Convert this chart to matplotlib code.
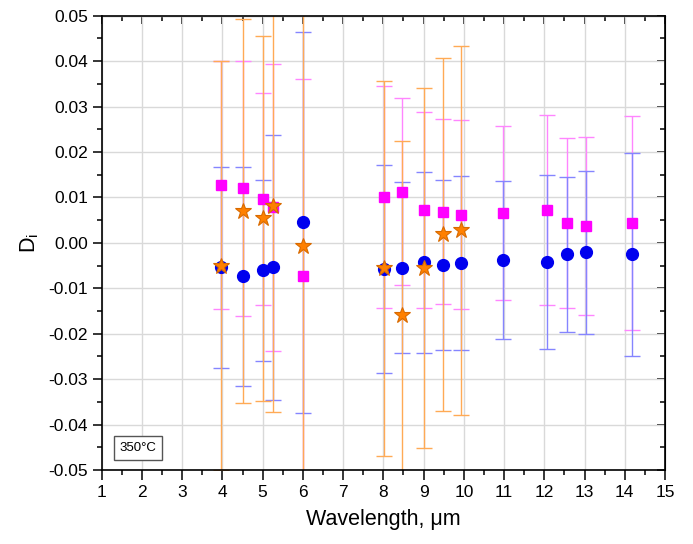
import matplotlib
matplotlib.use('Agg')
import matplotlib.pyplot as plt
from matplotlib.ticker import MultipleLocator, FuncFormatter

plt.rcParams['font.family'] = ['Liberation Sans', 'DejaVu Sans']

# values
wavelength = [3.96, 4.51, 5.01, 5.26, 6.00, 8.02, 8.47, 9.02, 9.49, 9.93,
              10.97, 12.06, 12.56, 13.03, 14.17]

d_blue = [-0.0054, -0.0073, -0.0060, -0.0054, 0.0045, -0.0058, -0.0055, -0.0043,
          -0.0048, -0.0044, -0.0038, -0.0042, -0.0025, -0.0021, -0.0025]
err_blue = [0.0221, 0.0241, 0.0199, 0.0291, 0.0420, 0.0229, 0.0188, 0.0200,
            0.0187, 0.0192, 0.0174, 0.0192, 0.0171, 0.0179, 0.0223]

d_magenta = [0.0128, 0.0120, 0.0096, 0.0078, -0.0073, 0.0101, 0.0113, 0.0073,
             0.0069, 0.0062, 0.0066, 0.0073, 0.0044, 0.0038, 0.0044]
err_magenta = [0.0273, 0.0280, 0.0233, 0.0315, 0.0433, 0.0245, 0.0205, 0.0216,
               0.0203, 0.0208, 0.0191, 0.0209, 0.0188, 0.0196, 0.0236]

wl_orange = wavelength[:10]
d_orange = [-0.0050, 0.0071, 0.0054, 0.0081, -0.0007, -0.0056, -0.0159, -0.0055,
            0.0019, 0.0028]
err_orange = [0.0450, 0.0423, 0.0402, 0.0453, 0.0560, 0.0413, 0.0384, 0.0397,
              0.0389, 0.0406]

fig = plt.figure(figsize=(6.93, 5.44), dpi=100)
ax = fig.add_axes([0.1468, 0.136, 0.8128, 0.835])

# error bars first (pink, blue, orange on top), markers above them
ax.errorbar(wavelength, d_magenta, yerr=err_magenta, fmt='none', ecolor='#ff85ff',
            elinewidth=1, capsize=6, capthick=1, zorder=2)
ax.errorbar(wavelength, d_blue, yerr=err_blue, fmt='none', ecolor='#8585ff',
            elinewidth=1, capsize=6, capthick=1, zorder=2.1)
ax.errorbar(wl_orange, d_orange, yerr=err_orange, fmt='none', ecolor='#ffaa55',
            elinewidth=1, capsize=6, capthick=1, zorder=2.2)

ax.plot(wavelength, d_magenta, 's', color='#ff00ff', markersize=7, zorder=3)
ax.plot(wavelength, d_blue, 'o', color='#0000ee', markersize=8.5, zorder=4)
ax.plot(wl_orange, d_orange, '*', color='#ff8000', markeredgecolor='#d86a00',
        markeredgewidth=0.8, markersize=12, zorder=5)

ax.set_xlim(1, 15)
ax.set_ylim(-0.05, 0.05)
ax.xaxis.set_major_locator(MultipleLocator(1))
ax.xaxis.set_minor_locator(MultipleLocator(0.5))
ax.yaxis.set_major_locator(MultipleLocator(0.01))
ax.yaxis.set_minor_locator(MultipleLocator(0.005))
ax.yaxis.set_major_formatter(FuncFormatter(lambda v, p: '%.2f' % (round(v, 4) + 0.0)))

ax.grid(True, which='major', color='#d9d9d9', linewidth=1)
ax.set_axisbelow(True)
for s in ax.spines.values():
    s.set_linewidth(1.2)

ax.tick_params(axis='both', which='major', direction='out', length=6.5, width=1.1,
               labelsize=12.5, top=False, right=False)
ax.tick_params(axis='both', which='minor', direction='out', length=3.5, width=1.1,
               top=False, right=False)
ax.tick_params(axis='x', which='major', length=7)

# mirrored inward ticks on top and right
top = ax.secondary_xaxis('top')
top.xaxis.set_major_locator(MultipleLocator(1))
top.xaxis.set_minor_locator(MultipleLocator(0.5))
top.tick_params(which='major', direction='in', length=5.5, width=1.1, labeltop=False)
top.tick_params(which='minor', direction='in', length=3.5, width=1.1)
right = ax.secondary_yaxis('right')
right.yaxis.set_major_locator(MultipleLocator(0.01))
right.yaxis.set_minor_locator(MultipleLocator(0.005))
right.tick_params(which='major', direction='in', length=5.5, width=1.1, labelright=False)
right.tick_params(which='minor', direction='in', length=3.5, width=1.1)

ax.set_xlabel('Wavelength, μm', fontsize=15.5, labelpad=7)
ax.set_ylabel('D$_\\mathregular{i}$', fontsize=15.5, labelpad=5)

ax.text(0.0644, 0.0484, '350°C', transform=ax.transAxes, fontsize=9.5,
        ha='center', va='center',
        bbox=dict(boxstyle='square,pad=0.45', facecolor='white',
                  edgecolor='#555555', linewidth=1))

fig.savefig('out.png', dpi=100)
